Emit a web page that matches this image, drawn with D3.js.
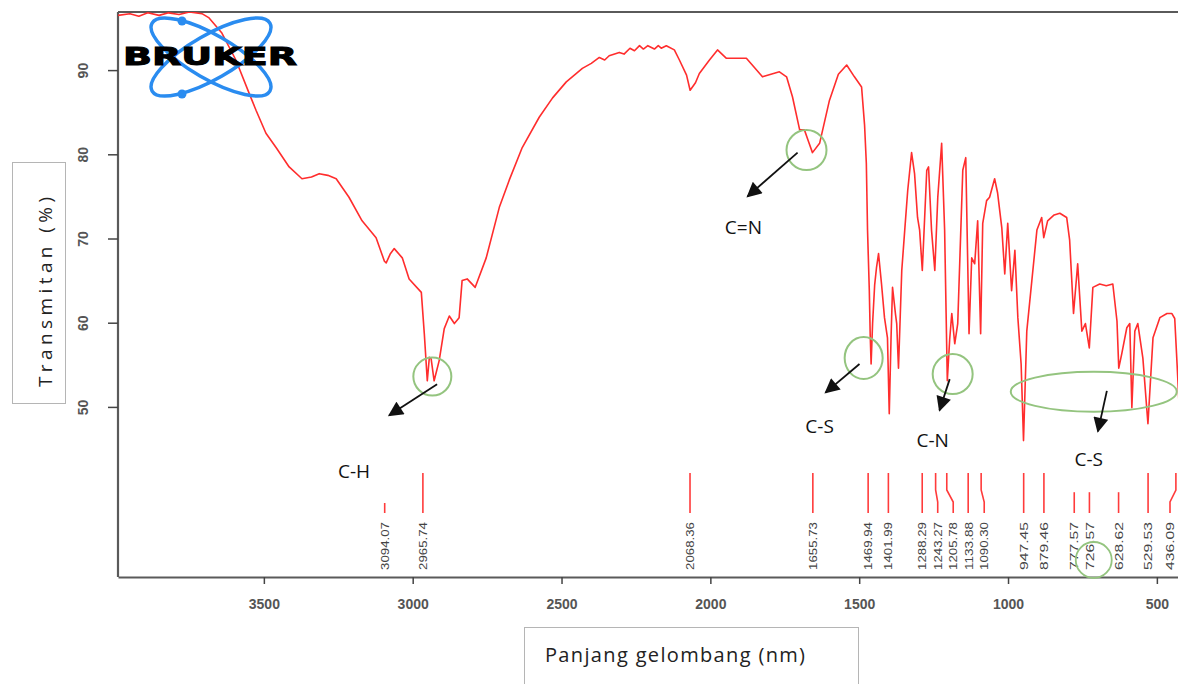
<!DOCTYPE html>
<html><head><meta charset="utf-8">
<script src="https://cdn.jsdelivr.net/npm/d3@7"></script>
<style>body{margin:0;background:#fff}svg{display:block}</style>
</head><body>
<script>
// ---- data ----
const wavenumber = [3990,3950,3920,3890,3852,3820,3785,3750,3708,3684,3641,3594,3550,3526,3493,3459,3415,3372,3340,3314,3285,3257,3214,3170,3123,3095,3089,3075,3062,3035,3012,2971,2961,2951,2944,2938,2928,2911,2894,2877,2860,2844,2834,2817,2790,2753,2709,2676,2632,2575,2530,2484,2430,2400,2373,2355,2340,2306,2290,2270,2255,2238,2225,2210,2188,2175,2165,2148,2121,2104,2080,2068,2050,2037,2003,1976,1946,1879,1825,1768,1744,1724,1700,1684,1670,1657,1633,1600,1570,1542,1516,1492,1482,1476,1472,1466,1463,1460,1455,1448,1442,1435,1425,1415,1405,1399,1393,1388,1378,1374,1368,1357,1347,1337,1324,1314,1304,1297,1288,1273,1267,1257,1246,1236,1223,1213,1208,1204,1196,1189,1179,1169,1152,1142,1136,1131,1122,1112,1102,1092,1085,1072,1062,1045,1035,1021,1011,1001,988,977,967,956,948,937,920,903,887,880,867,845,826,803,793,780,766,752,740,727,715,692,670,648,634,628,618,601,591,584,574,564,547,530,513,490,466,450,440,432,425];
const transmittance = [96.5,96.7,96.4,96.8,96.5,96.8,96.6,96.9,96.7,96.2,94.4,91.2,87.3,85.2,82.5,80.8,78.5,77.1,77.3,77.7,77.5,77.1,74.9,72.1,70.1,67.3,67.1,68.2,68.8,67.7,65.2,63.6,58.7,53.1,55.9,55.7,53.1,55.5,59.3,60.8,59.9,60.6,65.0,65.2,64.2,67.7,73.7,76.9,80.8,84.4,86.7,88.6,90.2,90.8,91.5,91.2,91.7,92.1,91.9,92.6,92.3,92.9,92.5,92.9,92.5,92.9,92.6,92.9,92.4,91.2,89.4,87.6,88.5,89.6,91.2,92.4,91.4,91.4,89.2,89.8,89.2,86.8,82.9,82.9,81.5,80.2,81.3,86.4,89.5,90.6,89.2,88.0,83.5,78.9,71.0,63.8,58.5,55.1,59.9,64.5,66.5,68.2,64.6,60.6,58.2,49.2,58.2,64.2,61.0,59.9,54.6,66.2,71.0,75.7,80.2,77.7,72.5,71.0,66.2,78.1,78.5,71.0,66.2,74.9,81.3,71.0,61.1,53.1,58.0,61.1,57.5,59.9,78.1,79.6,68.2,58.7,67.7,67.0,72.1,58.7,71.8,74.5,74.9,77.1,75.4,71.3,65.8,71.8,63.8,68.6,60.6,55.1,46.0,59.0,65.0,71.0,72.5,70.1,72.1,72.8,73.0,72.5,69.8,61.1,67.0,59.0,59.9,57.0,64.2,64.6,64.4,64.6,60.2,54.6,56.3,59.4,59.9,49.9,59.0,59.9,55.8,48.0,58.2,60.6,61.1,61.1,60.5,55.0,50.0];

const peakPositions = [3094.07,2965.74,2068.36,1655.73,1469.94,1401.99,1288.29,1243.27,1205.78,1133.88,1090.30,947.45,879.46,777.57,726.57,628.62,529.53,436.09];
const peakLabels = ["3094.07","2965.74","2068.36","1655.73","1469.94","1401.99","1288.29","1243.27","1205.78","1133.88","1090.30","947.45","879.46","777.57","726.57","628.62","529.53","436.09"];
const peakStrength = [0.25,1,1,1,1,1,1,1,1,1,1,1,1,0.52,0.52,0.52,1,1];

const xTicks = [3500,3000,2500,2000,1500,1000,500];
const yTicks = [50,60,70,80,90];

// annotations (in data units: wavenumber, %T)
const groupLabels = ["C-H","C=N","C-S","C-N","C-S"];
const markCenter = [[2934,53.6],[1677,80.5],[1485,55.8],[1186,53.9],[712,51.8]];
const arrowFrom = [[2918,52.7],[1707,80.2],[1499,55.1],[1196,53.3],[668,51.9]];
const arrowTo = [[3079,49.0],[1875,75.0],[1613,51.7],[1230,49.6],[698,47.1]];
const labelAt = [[3197,42.4],[1889,71.3],[1633,47.7],[1253,46.0],[729,43.8]];

const W = 1178, H = 684;
const M = {left:118, top:12, right:1178, bottom:577};

const svg = d3.select("body").append("svg").attr("width", W).attr("height", H)
  .style("font-family","'Liberation Sans', Arial, sans-serif");

const x = d3.scaleLinear().domain([3990, 429]).range([M.left, M.right]);
const y = d3.scaleLinear().domain([29.8, 96.9]).range([M.bottom, M.top]);

svg.append("defs").append("clipPath").attr("id","plot")
  .append("rect").attr("x",M.left).attr("y",M.top).attr("width",M.right-M.left).attr("height",M.bottom-M.top);

svg.select("defs").append("marker").attr("id","arrow")
  .attr("viewBox","0 0 10 10").attr("refX",9).attr("refY",5)
  .attr("markerUnits","userSpaceOnUse").attr("markerWidth",17).attr("markerHeight",15)
  .attr("orient","auto")
  .append("path").attr("d","M0,0 L10,5 L0,10 Z").attr("fill","#111");

const axisColor = "#5a5a5a";
svg.append("line").attr("x1",M.left).attr("x2",M.right).attr("y1",M.top).attr("y2",M.top)
  .attr("stroke",axisColor).attr("stroke-width",2);

// bottom axis
const gx = svg.append("g").attr("transform",`translate(0,${M.bottom})`)
  .call(d3.axisBottom(x).tickValues(xTicks).tickFormat(d3.format("d")).tickSize(7).tickSizeOuter(0).tickPadding(15));
gx.select(".domain").attr("stroke",axisColor).attr("stroke-width",2.2);
gx.selectAll(".tick line").attr("stroke","#444").attr("stroke-width",1.5);
gx.selectAll(".tick text").attr("fill","#555").style("font-size","14px").style("font-weight","bold");

// left axis
const gy = svg.append("g").attr("transform",`translate(${M.left},0)`)
  .call(d3.axisLeft(y).tickValues(yTicks).tickSize(10).tickSizeOuter(0));
gy.select(".domain").attr("stroke",axisColor).attr("stroke-width",2.2)
  .attr("d",`M0,${M.top}V${M.bottom}`);
gy.selectAll(".tick line").attr("stroke","#444").attr("stroke-width",1.5);
gy.selectAll(".tick text").remove();
gy.selectAll(".tick").append("text")
  .attr("transform","translate(-35,0) rotate(-90)")
  .attr("text-anchor","middle").attr("dy","0.35em")
  .attr("fill","#555").style("font-size","14px").style("font-weight","bold")
  .text(d => d);

// spectrum
const pts = wavenumber.map((w,i) => [w, transmittance[i]]);
svg.append("path").datum(pts)
  .attr("clip-path","url(#plot)")
  .attr("fill","none").attr("stroke","#ff2d2d").attr("stroke-width",1.6)
  .attr("stroke-linejoin","round")
  .attr("d", d3.line().x(d => x(d[0])).y(d => y(d[1])));

// peak markers with label de-overlap
const markBottom = 513, markFull = 40, minGap = 15.5;
const peakX = peakPositions.map(p => x(p));
const order = d3.range(peakX.length).sort((a,b) => peakX[a]-peakX[b]);
const labX = peakX.slice();
let prev = -1e9;
order.forEach(i => { labX[i] = Math.min(Math.max(peakX[i], prev + minGap), W - 8); prev = labX[i]; });
const gp = svg.append("g");
peakPositions.forEach((p,i) => {
  const top = markBottom - markFull*peakStrength[i];
  const px = peakX[i], lx = labX[i];
  let d;
  if (Math.abs(px-lx) < 0.6) d = `M${px},${top}V${markBottom}`;
  else { const b1 = Math.max(top, 490), b2 = 502; d = `M${px},${top}V${b1}L${lx},${b2}V${markBottom}`; }
  gp.append("path").attr("d",d).attr("fill","none").attr("stroke","#ff3b3b").attr("stroke-width",1.6);
  gp.append("text").attr("transform",`translate(${lx},570) rotate(-90)`)
    .attr("text-anchor","start").attr("dy","0.35em")
    .attr("fill","#444").style("font-size","11.5px")
    .attr("textLength",48).attr("lengthAdjust","spacingAndGlyphs")
    .text(peakLabels[i]);
});

// annotations
const green = "#94c47f";
const ga = svg.append("g");
const radii = [[19,19],[20,20],[19,21],[20,20],[83,20]];
groupLabels.forEach((t,i) => {
  ga.append("ellipse").attr("cx",x(markCenter[i][0])).attr("cy",y(markCenter[i][1]))
    .attr("rx",radii[i][0]).attr("ry",radii[i][1])
    .attr("fill","none").attr("stroke",green).attr("stroke-width",2);
  ga.append("line").attr("x1",x(arrowFrom[i][0])).attr("y1",y(arrowFrom[i][1]))
    .attr("x2",x(arrowTo[i][0])).attr("y2",y(arrowTo[i][1]))
    .attr("stroke","#111").attr("stroke-width",1.8).attr("marker-end","url(#arrow)");
  ga.append("text").attr("x",x(labelAt[i][0])).attr("y",y(labelAt[i][1]))
    .attr("text-anchor","middle").attr("dy","0.35em")
    .style("font-family","'Open Sans', sans-serif").style("font-size","19px").attr("fill","#111")
    .text(t);
});
ga.append("circle").attr("cx",labX[14]+4).attr("cy",560).attr("r",18)
  .attr("fill","none").attr("stroke",green).attr("stroke-width",1.8);

// axis title boxes
svg.append("rect").attr("x",12.5).attr("y",162.5).attr("width",53).attr("height",241)
  .attr("fill","none").attr("stroke","#b5b5b5").attr("stroke-width",1);
svg.append("text").attr("transform","translate(52,292) rotate(-90)")
  .attr("text-anchor","middle")
  .style("font-family","'Open Sans', sans-serif").style("font-size","19px").attr("fill","#222")
  .attr("textLength",190).attr("lengthAdjust","spacing")
  .text("Transmitan (%)");
svg.append("rect").attr("x",524.5).attr("y",627.5).attr("width",334).attr("height",80)
  .attr("fill","none").attr("stroke","#b5b5b5").attr("stroke-width",1);
svg.append("text").attr("x",545).attr("y",662)
  .style("font-family","'Open Sans', sans-serif").style("font-size","20px").attr("fill","#222")
  .attr("textLength",260).attr("lengthAdjust","spacing")
  .text("Panjang gelombang (nm)");

// BRUKER logo
const logo = svg.append("g");
const blue = "#2a8cf0";
logo.append("ellipse").attr("cx",0).attr("cy",0).attr("rx",68).attr("ry",22)
  .attr("transform","translate(211,57) rotate(30)")
  .attr("fill","none").attr("stroke",blue).attr("stroke-width",3.5);
logo.append("ellipse").attr("cx",0).attr("cy",0).attr("rx",68).attr("ry",22)
  .attr("transform","translate(211,57) rotate(-30)")
  .attr("fill","none").attr("stroke",blue).attr("stroke-width",3.5);
logo.append("circle").attr("cx",182).attr("cy",21).attr("r",4.5).attr("fill",blue);
logo.append("circle").attr("cx",182).attr("cy",94).attr("r",4.5).attr("fill",blue);
logo.append("text").attr("x",123).attr("y",65)
  .style("font-family","'DejaVu Sans', sans-serif").style("font-weight","bold").style("font-size","25px")
  .attr("fill","#000").attr("stroke","#000").attr("stroke-width",1)
  .attr("textLength",174).attr("lengthAdjust","spacingAndGlyphs")
  .text("BRUKER");
</script>
</body></html>
